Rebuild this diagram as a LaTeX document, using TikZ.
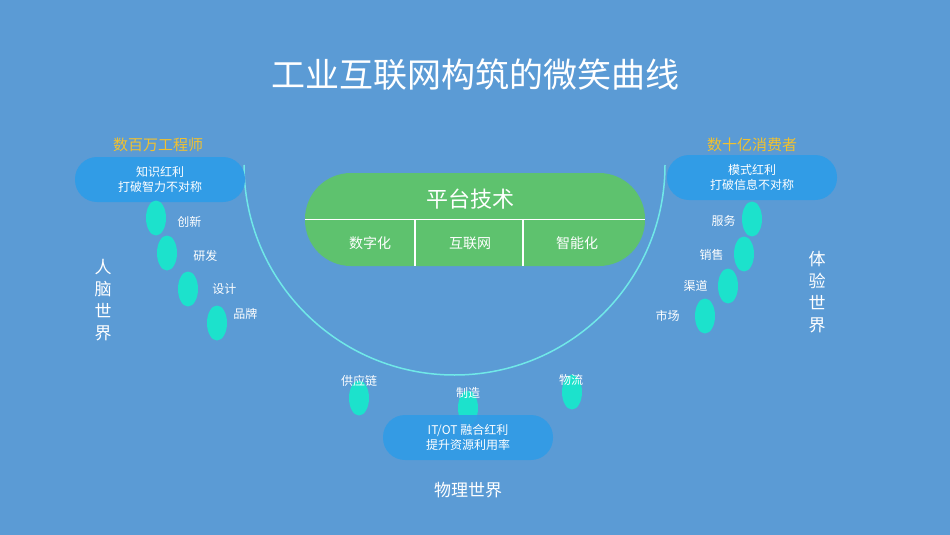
\documentclass[tikz,border=0pt]{standalone}
\usepackage{fontspec}
\setmainfont{Noto Sans CJK SC}
\usepackage{tikz}
\usetikzlibrary{positioning, shapes, shapes.geometric}

\definecolor{bgblue}{RGB}{91,155,213}
\definecolor{pillblue}{RGB}{49,156,230}
\definecolor{platgreen}{RGB}{94,194,110}
\definecolor{bubteal}{RGB}{28,226,204}
\definecolor{arccyan}{RGB}{112,232,232}
\definecolor{headgold}{RGB}{242,193,46}

\begin{document}
\begin{tikzpicture}[
    x=1pt, y=-1pt,
    pill/.style={rectangle, fill=pillblue, rounded corners=22pt, minimum width=170pt, minimum height=45pt, align=center, text=white, font=\fontsize{12}{15}\selectfont},
    head/.style={text=headgold, font=\fontsize{15}{18}\selectfont},
    bubble/.style={ellipse, fill=bubteal, minimum width=20pt, minimum height=35pt, inner sep=0pt},
    lbl/.style={text=white, font=\fontsize{12}{14}\selectfont, inner sep=1pt},
    world/.style={text=white, align=center, font=\fontsize{17}{22}\selectfont},
    cell/.style={text=white, font=\fontsize{14}{16}\selectfont}
]

% Background
\fill[bgblue] (0,0) rectangle (950,535);

% Title
\node[text=white, font=\fontsize{34}{40}\selectfont] (title) at (475,75) {工业互联网构筑的微笑曲线};

% Smile curve
\draw[arccyan, line width=1.5pt] (244,165) arc[start angle=180, end angle=0, x radius=210.5, y radius=210];

% Platform
\node[rectangle, fill=platgreen, rounded corners=46pt, minimum width=340pt, minimum height=93pt] (plat) at (475,219.5) {};
\node[text=white, font=\fontsize{22}{26}\selectfont] (platname) at (470,199) {平台技术};
\draw[white, line width=1.5pt] (plat.west) -- (plat.east);
\draw[white, line width=1.5pt] (415,219.5) -- (415,266);
\draw[white, line width=1.5pt] (523,219.5) -- (523,266);
\node[cell] (c1) at (370,243) {数字化};
\node[cell] (c2) at (470,243) {互联网};
\node[cell] (c3) at (577,243) {智能化};

% Left side
\node[head] (lhead) at (158,145) {数百万工程师};
\node[pill] (lpill) at (160,179.5) {知识红利\\打破智力不对称};
\node[bubble] (l1) at (156,218) {};
\node[bubble] (l2) at (167,253) {};
\node[bubble] (l3) at (188,289) {};
\node[bubble] (l4) at (217,323) {};
\node[lbl, right=10pt of l1, yshift=-4pt] {创新};
\node[lbl, right=15pt of l2, yshift=-3pt] {研发};
\node[lbl, right=13pt of l3] {设计};
\node[lbl, right=5pt of l4, yshift=9pt] {品牌};
\node[world] (lworld) at (103,300) {人\\脑\\世\\界};

% Right side
\node[head] (rhead) at (752,145) {数十亿消费者};
\node[pill] (rpill) at (752,177.5) {模式红利\\打破信息不对称};
\node[bubble] (r1) at (752,219) {};
\node[bubble] (r2) at (744,254) {};
\node[bubble] (r3) at (728,286) {};
\node[bubble] (r4) at (705,316) {};
\node[lbl, left=5pt of r1, yshift=-2pt] {服务};
\node[lbl, left=9pt of r2, yshift=-1pt] {销售};
\node[lbl, left=9pt of r3] {渠道};
\node[lbl, left=14pt of r4] {市场};
\node[world] (rworld) at (817,292) {体\\验\\世\\界};

% Bottom
\node[bubble] (b1) at (359,398) {};
\node[bubble] (b2) at (468,408) {};
\node[bubble] (b3) at (572,392) {};
\node[pill, fill opacity=0.92, text opacity=1] (bpill) at (468,437.5) {IT/OT 融合红利\\提升资源利用率};
\node[lbl] at (359,381) {供应链};
\node[lbl] at (468,393) {制造};
\node[lbl] at (571,380) {物流};
\node[world] (bworld) at (468,490) {物理世界};

\end{tikzpicture}
\end{document}
